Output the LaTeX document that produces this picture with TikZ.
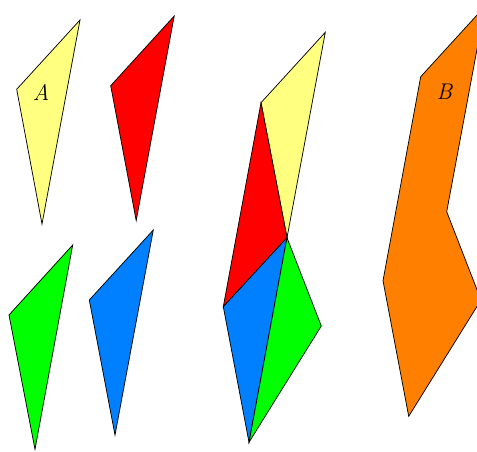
\documentclass[tikz,border=0pt]{standalone}
\definecolor{pyellow}{HTML}{FFFF80}
\definecolor{pred}{HTML}{FF0000}
\definecolor{pgreen}{HTML}{00FF00}
\definecolor{pblue}{HTML}{0080FF}
\definecolor{porange}{HTML}{FF8000}
\tikzset{piece/.style={draw=black, line width=0.55pt, line join=miter},
  lab/.style={font=\fontsize{17}{20}\selectfont\itshape}}
\begin{document}
\begin{tikzpicture}[x=0.75pt,y=-0.75pt]
\useasboundingbox (0,0) rectangle (477,451);
\clip (0,0) rectangle (477,451);
% separate pieces
\filldraw[piece, fill=pyellow] (16.7,89.3) -- (80,20) -- (42,224) -- cycle;
\filldraw[piece, fill=pred] (110.7,85.7) -- (174.2,16) -- (136.2,220.5) -- cycle;
\filldraw[piece, fill=pgreen] (9,315) -- (72.7,245) -- (35,449.3) -- cycle;
\filldraw[piece, fill=pblue] (89.3,300) -- (153.3,230) -- (115,435) -- cycle;
\node[lab] (A) at (41,92) {A};
% assembled
\coordinate (T) at (325.3,32.3);
\coordinate (U) at (261,102.7);
\coordinate (C) at (287,237.7);
\coordinate (L) at (223.3,306.7);
\coordinate (R) at (321.3,326);
\coordinate (D) at (249,442.3);
\filldraw[piece, fill=pyellow] (U) -- (T) -- (C) -- cycle;
\filldraw[piece, fill=pred] (U) -- (C) -- (L) -- cycle;
\filldraw[piece, fill=pblue] (L) -- (C) -- (D) -- cycle;
\filldraw[piece, fill=pgreen] (C) -- (R) -- (D) -- cycle;
% shape B (assembled shape translated)
\filldraw[piece, fill=porange] (485,6.3) -- (420.7,76.7) -- (383,280.7) -- (408.7,416.3) -- (481,300) -- (446.7,211.7) -- cycle;
\node[lab] (B) at (444.3,91.7) {B};
\end{tikzpicture}
\end{document}
